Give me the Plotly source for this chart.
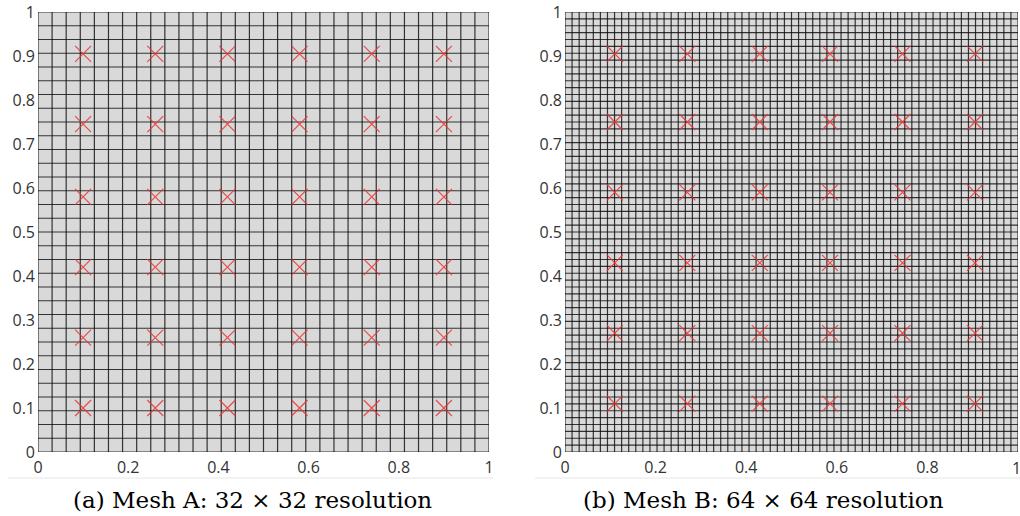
import numpy as np
import plotly.graph_objects as go

# Mesh resolutions (cells per side)
mesh_cells = [32, 64]
captions = ["(a) Mesh A: 32 × 32 resolution", "(b) Mesh B: 64 × 64 resolution"]

# Sensor locations (x, y) on each mesh
sensors_a_x = [0.10, 0.26, 0.42, 0.58, 0.74, 0.90]
sensors_a_y = [0.10, 0.26, 0.42, 0.58, 0.745, 0.905]
sensors_b_x = [0.11, 0.27, 0.43, 0.585, 0.745, 0.905]
sensors_b_y = [0.11, 0.27, 0.43, 0.59, 0.75, 0.905]

tick_vals = [0, 0.2, 0.4, 0.6, 0.8, 1]
tick_text = ["0", "0.2", "0.4", "0.6", "0.8", "1"]
ytick_vals = [0, 0.1, 0.2, 0.3, 0.4, 0.5, 0.6, 0.7, 0.8, 0.9, 1]
ytick_text = ["0", "0.1", "0.2", "0.3", "0.4", "0.5", "0.6", "0.7", "0.8", "0.9", "1"]

W, H = 1020, 516
x_domains = [[38 / W, 489 / W], [565 / W, 1018 / W]]
y_domain = [1 - 452 / H, 1 - 12 / H]

fig = go.Figure()


def mesh_lines(n):
    pts = np.linspace(0, 1, n + 1)
    xs, ys = [], []
    for p in pts:
        xs += [p, p, None]
        ys += [0, 1, None]
        xs += [0, 1, None]
        ys += [p, p, None]
    return xs, ys


sensors = [(sensors_a_x, sensors_a_y), (sensors_b_x, sensors_b_y)]
for i, n in enumerate(mesh_cells):
    xa = "x" if i == 0 else "x2"
    ya = "y" if i == 0 else "y2"
    mx, my = mesh_lines(n)
    fig.add_trace(go.Scatter(
        x=mx, y=my, mode="lines", xaxis=xa, yaxis=ya,
        line=dict(color="rgba(10,10,10,0.8)", width=1.2),
        hoverinfo="skip", showlegend=False, cliponaxis=False,
    ))
    sx, sy = sensors[i]
    gx = [x for y in sy for x in sx]
    gy = [y for y in sy for x in sx]
    fig.add_trace(go.Scatter(
        x=gx, y=gy, mode="markers", xaxis=xa, yaxis=ya,
        marker=dict(symbol="x-thin", size=16,
                    line=dict(color="rgba(235,50,50,0.85)", width=1.2)),
        showlegend=False,
    ))

axis_font = dict(family="Open Sans", size=16, color="#333333")
common_x = dict(range=[0, 1], tickvals=tick_vals, ticktext=tick_text,
                showgrid=False, zeroline=False, showline=False, ticks="",
                ticklabelstandoff=4, automargin=False,
                tickfont=axis_font, fixedrange=True)
common_y = dict(range=[0, 1], tickvals=ytick_vals, ticktext=ytick_text,
                showgrid=False, zeroline=False, showline=False, ticks="",
                ticklabelstandoff=2, automargin=False,
                tickfont=axis_font, fixedrange=True)

fig.update_layout(
    width=W, height=H,
    margin=dict(l=0, r=0, t=0, b=0, pad=0, autoexpand=False),
    paper_bgcolor="white",
    plot_bgcolor="#d9d9d9",
    xaxis=dict(domain=x_domains[0], anchor="y", **common_x),
    yaxis=dict(domain=y_domain, anchor="x", **common_y),
    xaxis2=dict(domain=x_domains[1], anchor="y2", **common_x),
    yaxis2=dict(domain=y_domain, anchor="x2", **common_y),
)

# Right panel's last x tick label sits on the page edge; place it explicitly
fig.add_annotation(x=tick_vals[-1], xref="x2", y=1 - 468 / H, yref="paper",
                   xanchor="center", yanchor="middle", xshift=-2,
                   text=tick_text[-1], showarrow=False, font=axis_font)

# Thin rules under each panel and the captions
for x0, x1 in [(8, 493), (535, 1020)]:
    fig.add_shape(type="line", xref="paper", yref="paper",
                  x0=x0 / W, x1=x1 / W, y0=1 - 478 / H, y1=1 - 478 / H,
                  line=dict(color="#e6e6e6", width=1))

for cx, text in zip([252, 763], captions):
    fig.add_annotation(x=cx / W, y=1 - 500 / H, xref="paper", yref="paper",
                       xanchor="center", yanchor="middle",
                       text=text, showarrow=False,
                       font=dict(family="DejaVu Serif", size=23, color="black"))

fig.write_html("out.html")
